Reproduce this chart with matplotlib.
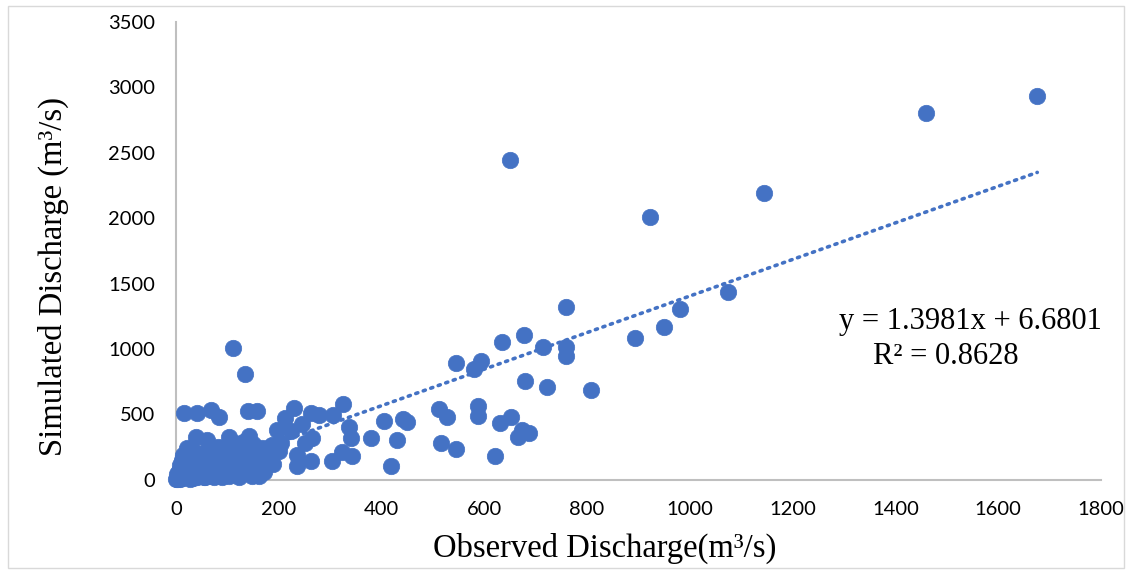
import matplotlib
matplotlib.use("Agg")
import matplotlib.pyplot as plt
from matplotlib.patches import Rectangle
import numpy as np

# Observed (x) and simulated (y) discharge, m3/s
obs_high = [1676, 1459, 1145, 923, 1075, 981, 949, 894, 650, 759]
sim_high = [2934, 2801, 2194, 2010, 1436, 1308, 1170, 1084, 2443, 1320]

obs_mid = [110, 135, 635, 678, 714, 759, 759, 545, 579, 594, 680, 722, 808,
           511, 527, 587, 587, 630, 652, 673, 687, 666, 515, 545, 620,
           405, 441, 449, 379, 431, 419, 325, 336, 340, 323, 343, 303,
           305, 279, 263, 230, 212, 196, 223, 245, 264, 251, 235, 235,
           262, 186, 173, 157, 141, 157, 84, 69, 40, 16, 39, 60, 104,
           143, 136, 115, 73]
sim_mid = [1006, 807, 1051, 1108, 1011, 1018, 946, 893, 845, 909, 755, 707, 687,
           539, 477, 564, 487, 431, 477, 380, 360, 329, 283, 235, 184,
           452, 462, 444, 316, 304, 107, 579, 406, 316, 214, 184, 145,
           495, 495, 513, 551, 470, 380, 373, 424, 316, 278, 189, 105,
           143, 265, 227, 105, 528, 528, 482, 533, 508, 513, 329, 304, 324,
           334, 61, 54, 23]

obs_low = [0.5, 1, 2, 3, 4, 5, 6, 7, 8, 9, 10, 11, 12, 13, 14, 15, 16, 17, 18, 19,
           20, 22, 24, 25, 27, 28, 30, 32, 35, 36, 38, 40, 42, 45, 47, 50, 52, 55,
           58, 60, 62, 65, 68, 70, 72, 75, 78, 80, 82, 85, 88, 90, 92, 95, 98, 100,
           102, 105, 108, 110, 112, 115, 118, 120, 122, 125, 128, 130, 132, 135,
           138, 140, 143, 145, 148, 150, 153, 155, 158, 160, 163, 165, 168, 170,
           175, 178, 182, 185, 190, 3, 6, 9, 12, 18, 25, 33, 44, 55, 66, 88,
           2, 5, 8, 11, 14, 20, 26, 31, 37, 43, 48, 53, 57, 63, 67, 73, 77, 83,
           87, 93, 97, 103, 107, 113, 117, 123, 127, 133, 137, 142, 147, 152,
           157, 162, 167, 172, 180, 188, 195, 200, 205]
sim_low = [2, 5, 10, 4, 20, 15, 30, 8, 45, 25, 60, 12, 80, 35, 100, 50, 130, 20, 160, 70,
           200, 240, 110, 40, 180, 5, 90, 150, 60, 210, 120, 20, 170, 80, 130, 40, 200, 100,
           160, 60, 230, 120, 180, 30, 90, 210, 150, 60, 250, 110, 190, 20, 140, 230, 80, 170,
           260, 50, 120, 210, 280, 90, 160, 240, 40, 130, 200, 290, 70, 170,
           250, 110, 210, 50, 150, 270, 90, 190, 230, 130, 60, 180, 240, 100,
           200, 150, 250, 210, 260, 30, 60, 90, 120, 140, 20, 10, 30, 20, 40, 50,
           40, 70, 110, 150, 190, 120, 70, 30, 100, 50, 150, 70, 20, 160, 50, 140, 40, 90,
           140, 60, 110, 30, 180, 60, 110, 20, 90, 160, 120, 70, 30, 190,
           100, 30, 130, 60, 170, 120, 240, 220, 280]

slope = 1.3981
intercept = 6.6801
r2 = 0.8628

x_ticks = [0, 200, 400, 600, 800, 1000, 1200, 1400, 1600, 1800]
y_ticks = [0, 500, 1000, 1500, 2000, 2500, 3000, 3500]

obs = np.array(obs_low + obs_mid + obs_high, dtype=float)
sim = np.array(sim_low + sim_mid + sim_high, dtype=float)

blue = "#4472C4"
W, H = 1132, 573
fig = plt.figure(figsize=(W / 100, H / 100), dpi=100)
fig.patch.set_facecolor("white")
fig.add_artist(Rectangle((8 / W, 5 / H), 1116 / W, 562 / H, transform=fig.transFigure,
                         fill=False, edgecolor="#D9D9D9", linewidth=1.0))

ax = fig.add_axes([176 / W, 1 - 479.7 / H, (1101 - 176) / W, (479.7 - 22) / H])
ax.scatter(obs, sim, s=140, color=blue, edgecolors=blue, linewidths=0.5, zorder=3,
           clip_on=False)
xt = np.array([obs.min(), obs.max()])
ax.plot(xt, slope * xt + intercept, linestyle=(0, (0.6, 1.6)), dash_capstyle="round",
        color=blue, linewidth=2.6, zorder=4)

ax.set_xlim(0, 1800)
ax.set_ylim(0, 3500)
ax.set_xticks(x_ticks)
ax.set_yticks(y_ticks)
for s in ["top", "right"]:
    ax.spines[s].set_visible(False)
for s in ["left", "bottom"]:
    ax.spines[s].set_color("#BFBFBF")
    ax.spines[s].set_linewidth(1.5)
ax.tick_params(length=0, labelsize=14.5, colors="#000000")
ax.tick_params(axis="x", pad=15)
ax.tick_params(axis="y", pad=15)
for lab in ax.get_xticklabels() + ax.get_yticklabels():
    lab.set_fontfamily("Lato")

serif = "Liberation Serif"
fig.text(605 / W, 1 - 548 / H, "Observed Discharge(m³/s)", ha="center", va="center",
         fontsize=23.5, family=serif)
fig.text(53 / W, 1 - 276 / H, "Simulated Discharge (m³/s)", ha="center", va="center",
         rotation=90, fontsize=23.5, family=serif)
fig.text(970 / W, 1 - 321 / H, f"y = {slope}x + {intercept}", ha="center", va="center",
         fontsize=22, family=serif)
fig.text(946 / W, 1 - 356 / H, f"R² = {r2}", ha="center", va="center",
         fontsize=22, family=serif)

fig.savefig("out.png", dpi=100)
